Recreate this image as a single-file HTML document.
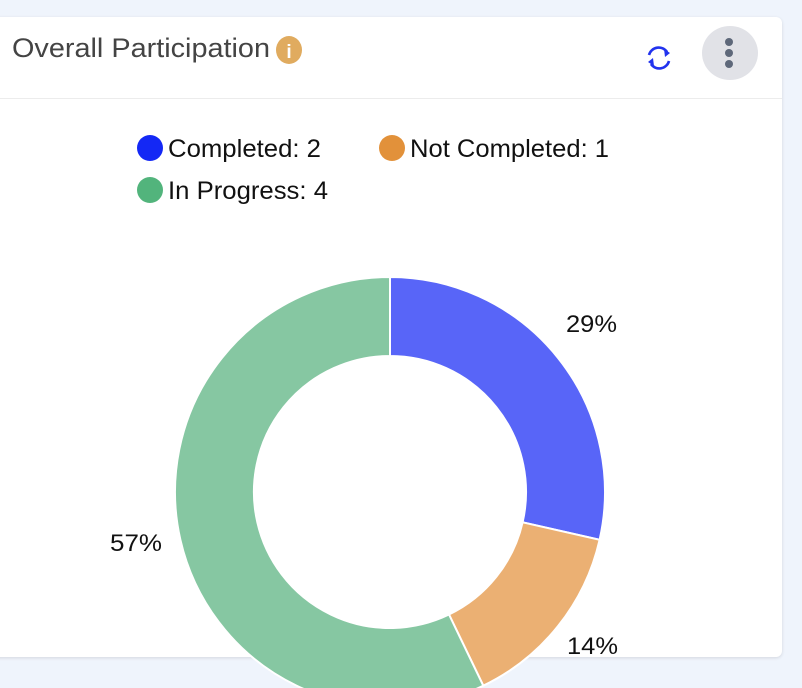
<!DOCTYPE html>
<html><head><meta charset="utf-8"><style>
html,body{margin:0;padding:0;width:802px;height:688px;overflow:hidden;background:#eff4fc;font-family:"Liberation Sans",sans-serif;}
.card{position:absolute;left:-10px;top:17px;width:792px;height:640px;background:#fff;border-radius:6px;box-shadow:0 1px 3px rgba(0,0,0,0.12);}
.hdr{position:absolute;left:0;top:98px;width:782px;height:1px;background:#ececec;}
svg{position:absolute;left:0;top:0;}
</style></head><body>
<div class="card"></div>
<div class="hdr"></div>
<svg width="802" height="688" viewBox="0 0 802 688">
<text x="12" y="57" font-family="Liberation Sans, sans-serif" font-size="27" fill="#444" textLength="258" lengthAdjust="spacingAndGlyphs">Overall Participation</text>
<ellipse cx="289" cy="50" rx="13" ry="14" fill="#e0ab5f"/>
<text x="289" y="58" text-anchor="middle" font-family="Liberation Sans, sans-serif" font-size="19" font-weight="bold" fill="#fff">i</text>
<g fill="none" stroke="#2233ee" stroke-width="2.6">
<path d="M649 55 A10 10 0 0 1 667 52"/><path d="M669 61 A10 10 0 0 1 651 64"/>
</g>
<path d="M664 49 L670 53 L665 57 Z" fill="#2233ee"/><path d="M654 66 L648 62 L653 58 Z" fill="#2233ee"/>
<ellipse cx="730" cy="53" rx="28" ry="27" fill="#e1e2e7"/>
<circle cx="729" cy="42" r="4" fill="#5e687a"/><circle cx="729" cy="53" r="4" fill="#5e687a"/><circle cx="729" cy="64" r="4" fill="#5e687a"/>
<circle cx="150" cy="148" r="13" fill="#1428f5"/>
<text x="168" y="157" font-size="25" font-family="Liberation Sans, sans-serif" fill="#111" textLength="153" lengthAdjust="spacingAndGlyphs">Completed: 2</text>
<circle cx="392" cy="148" r="13" fill="#e2913a"/>
<text x="410" y="157" font-size="25" font-family="Liberation Sans, sans-serif" fill="#111" textLength="199" lengthAdjust="spacingAndGlyphs">Not Completed: 1</text>
<circle cx="150" cy="190" r="13" fill="#52b47c"/>
<text x="168" y="199" font-size="25" font-family="Liberation Sans, sans-serif" fill="#111" textLength="160" lengthAdjust="spacingAndGlyphs">In Progress: 4</text>
<g stroke="#fff" stroke-width="2">
<path d="M390 277 A215 215 0 0 1 599.6 539.8 L522.6 522.3 A136 136 0 0 0 390 356 Z" fill="#5865f8"/>
<path d="M599.6 539.8 A215 215 0 0 1 483.3 685.7 L449 614.5 A136 136 0 0 0 522.6 522.3 Z" fill="#ebb073"/>
<path d="M483.3 685.7 A215 215 0 1 1 390 277 L390 356 A136 136 0 1 0 449 614.5 Z" fill="#86c7a2"/>
</g>
<text x="566" y="332" font-size="24" font-family="Liberation Sans, sans-serif" fill="#111" textLength="51" lengthAdjust="spacingAndGlyphs">29%</text>
<text x="567" y="654" font-size="24" font-family="Liberation Sans, sans-serif" fill="#111" textLength="51" lengthAdjust="spacingAndGlyphs">14%</text>
<text x="110" y="551" font-size="24" font-family="Liberation Sans, sans-serif" fill="#111" textLength="52" lengthAdjust="spacingAndGlyphs">57%</text>
</svg>
</body></html>
